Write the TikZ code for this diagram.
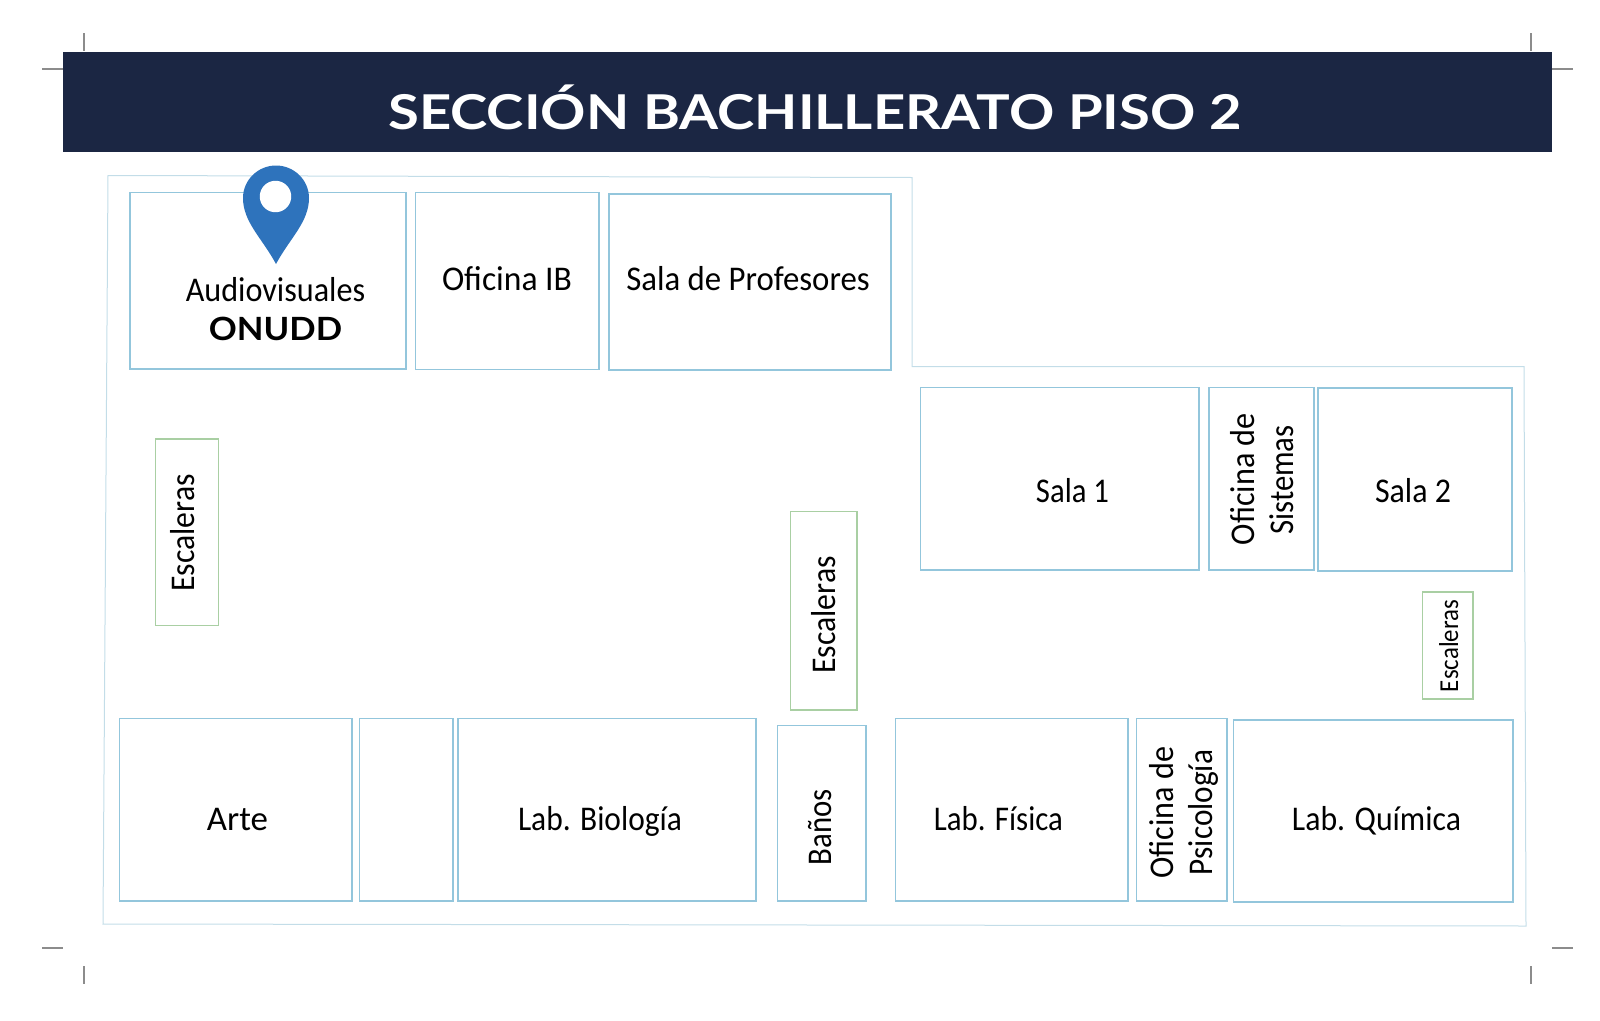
\documentclass[tikz,border=0pt]{standalone}
\usepackage{graphicx}
\usepackage{fontspec}
\setmainfont{Carlito}
\newfontfamily\headfont{Lato}
\newcommand{\fitw}[2]{\resizebox{#1}{\height}{#2}}
\definecolor{bannerc}{HTML}{1B2643}
\definecolor{roomc}{HTML}{93C6DC}
\definecolor{outerc}{HTML}{C3DDE8}
\definecolor{stairc}{HTML}{A9CFA3}
\definecolor{cropc}{HTML}{8C8C8C}
\definecolor{pinc}{HTML}{2E73BC}
\tikzset{
  x=0.75pt,y=-0.75pt,
  roombox/.style={draw=roomc,line width=0.9pt},
  stairbox/.style={draw=stairc,line width=0.85pt},
  outline/.style={draw=outerc,line width=0.75pt,line join=miter},
  crop/.style={draw=cropc,line width=0.9pt},
  lbl/.style={anchor=base,inner sep=0pt,outer sep=0pt,text=black,font=\fontsize{26pt}{30pt}\selectfont},
  vlbl/.style={lbl,rotate=90},
  smalllbl/.style={vlbl,font=\fontsize{20.5pt}{24pt}\selectfont},
}
\begin{document}
\begin{tikzpicture}
\useasboundingbox (0,0) rectangle (1600,1021);
% crop marks
\draw[crop] (84,33) -- (84,51);
\draw[crop] (42,69) -- (63,69);
\draw[crop] (1531,33) -- (1531,51);
\draw[crop] (1552,69) -- (1573,69);
\draw[crop] (42,948) -- (63,948);
\draw[crop] (84,966) -- (84,984);
\draw[crop] (1552,948) -- (1573,948);
\draw[crop] (1531,966) -- (1531,984);
% banner
\fill[bannerc] (63,51.5) rectangle (1552,152);
\node[lbl,text=white,font=\headfont\fontsize{36pt}{40pt}\selectfont\bfseries] (title) at (815,129) {\fitw{640pt}{SECCIÓN BACHILLERATO PISO 2}};
% building outline
\draw[outline] (108,175.5) -- (912,177.5) -- (912,366.5) -- (1524,366.5) -- (1526,926) -- (103,924) -- cycle;
% rooms
\draw[roombox] (130,192.5) rectangle (406,369);
\draw[roombox] (415.5,192.5) rectangle (599,369.5);
\draw[roombox] (609,194) rectangle (891,370);
\draw[roombox] (920.5,387.5) rectangle (1199,570);
\draw[roombox] (1209,387.5) rectangle (1314,570);
\draw[roombox] (1318,388) rectangle (1512,571);
\draw[roombox] (119.5,718.5) rectangle (352,901);
\draw[roombox] (359.5,718.5) rectangle (453,901);
\draw[roombox] (458,718.5) rectangle (756,901);
\draw[roombox] (777.5,725.5) rectangle (866,901);
\draw[roombox] (895.5,718.5) rectangle (1128,901);
\draw[roombox] (1136.5,718.5) rectangle (1227,901);
\draw[roombox] (1233.5,720) rectangle (1513,902);
% stairs
\draw[stairbox] (155.5,439) rectangle (218.5,625.5);
\draw[stairbox] (790.5,511.5) rectangle (857,710);
\draw[stairbox] (1422.5,592) rectangle (1473,699);
% pin
\fill[pinc] (276,264) .. controls (262,238) and (243,222) .. (243,198)
  .. controls (243,180) and (258,165.5) .. (276,165.5)
  .. controls (294,165.5) and (309,180) .. (309,198)
  .. controls (309,222) and (290,238) .. (276,264) -- cycle;
\fill[white] (275.5,196.5) circle (11.8pt);
% labels
\node[lbl] (audio) at (275.5,301.5) {\fitw{134.5pt}{Audiovisuales}};
\node[lbl,font=\headfont\fontsize{24pt}{28pt}\selectfont\bfseries] (onudd) at (275.5,340) {\fitw{100pt}{ONUDD}};
\node[lbl] (ofib) at (507,290) {\fitw{97.5pt}{Oficina IB}};
\node[lbl] (prof) at (748,290) {\fitw{182.5pt}{Sala de Profesores}};
\node[lbl] (sala1) at (1072.5,502) {\fitw{54.8pt}{Sala 1}};
\node[lbl] (sala2) at (1413,502) {\fitw{57pt}{Sala 2}};
\node[vlbl] (ofsis1) at (1254,479) {\fitw{99pt}{Oficina de}};
\node[vlbl] (ofsis2) at (1293,480) {\fitw{82pt}{Sistemas}};
\node[vlbl] (escl) at (194,533) {\fitw{88pt}{Escaleras}};
\node[vlbl] (escm) at (835.5,615) {\fitw{88pt}{Escaleras}};
\node[smalllbl] (escr) at (1458,646) {\fitw{69pt}{Escaleras}};
\node[lbl] (arte) at (237.5,830.5) {\fitw{45.8pt}{Arte}};
\node[lbl] (bio) at (600,830.5) {\fitw{123pt}{Lab. Biología}};
\node[vlbl] (banos) at (831.5,827) {\fitw{57pt}{Baños}};
\node[lbl] (fis) at (998.5,830.5) {\fitw{96.8pt}{Lab. Física}};
\node[vlbl] (ofpsi1) at (1173,812.5) {\fitw{98.8pt}{Oficina de}};
\node[vlbl] (ofpsi2) at (1212,812.5) {\fitw{93.8pt}{Psicología}};
\node[lbl] (quim) at (1376.5,830.5) {\fitw{126.8pt}{Lab. Química}};
\end{tikzpicture}
\end{document}
